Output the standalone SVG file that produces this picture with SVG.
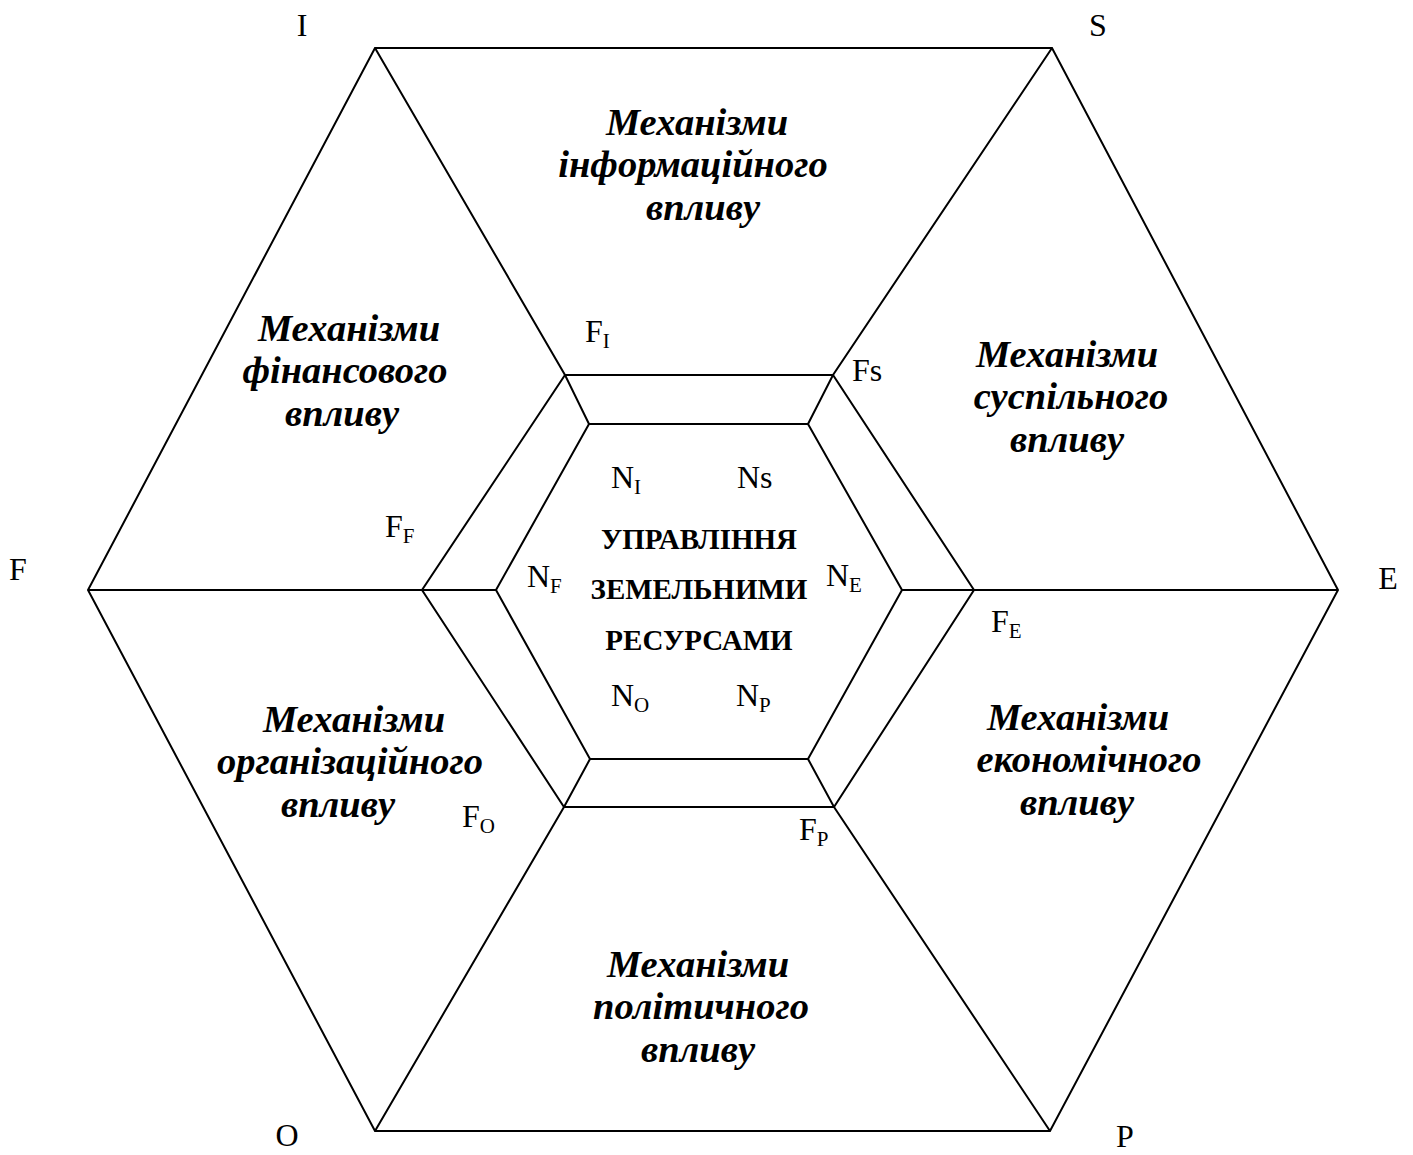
<svg xmlns="http://www.w3.org/2000/svg" width="1413" height="1155" viewBox="0 0 1413 1155">
<style>
.ln{fill:none;stroke:#000;stroke-width:2;stroke-linejoin:miter}
.mech{font-family:"Liberation Serif","Times New Roman",serif;font-weight:bold;font-style:italic;font-size:38.5px;text-anchor:middle;fill:#000}
.lbl{font-family:"Liberation Serif","Times New Roman",serif;font-size:32px;fill:#000}
.sub{font-size:21px}
.ctr{font-family:"Liberation Serif","Times New Roman",serif;font-weight:bold;font-size:29px;text-anchor:middle;fill:#000}
</style>
<rect width="1413" height="1155" fill="#fff"/>
<g id="connectors">
<polygon class="ln" points="375,48 1052,48 1338,590 1050,1131 375,1131 88,590"/>
<polygon class="ln" points="565,375 833,375 974,590 834,807 564,807 422,590"/>
<polygon class="ln" points="589,424 808,424 902,590 808,759 590,759 496,590"/>
<polyline class="ln" points="375,48 565,375 589,424"/>
<polyline class="ln" points="1052,48 833,375 808,424"/>
<polyline class="ln" points="88,590 422,590 496,590"/>
<polyline class="ln" points="1338,590 974,590 902,590"/>
<polyline class="ln" points="375,1131 564,807 590,759"/>
<polyline class="ln" points="1050,1131 834,807 808,759"/>
</g>
<g id="vertex-labels" class="lbl">
<text x="302" y="36" text-anchor="middle">I</text>
<text x="1098" y="36" text-anchor="middle">S</text>
<text x="18" y="580" text-anchor="middle">F</text>
<text x="1388" y="589" text-anchor="middle">E</text>
<text x="287" y="1146" text-anchor="middle">O</text>
<text x="1125" y="1147" text-anchor="middle">P</text>
</g>
<g id="node-info"><text class="mech"><tspan x="697" y="135">Механізми</tspan><tspan x="693" y="177">інформаційного</tspan><tspan x="703" y="220">впливу</tspan></text></g>
<g id="node-fin"><text class="mech"><tspan x="349" y="341">Механізми</tspan><tspan x="345" y="383">фінансового</tspan><tspan x="342" y="426">впливу</tspan></text></g>
<g id="node-soc"><text class="mech"><tspan x="1067" y="367">Механізми</tspan><tspan x="1071" y="409">суспільного</tspan><tspan x="1067" y="452">впливу</tspan></text></g>
<g id="node-org"><text class="mech"><tspan x="354" y="732">Механізми</tspan><tspan x="350" y="774">організаційного</tspan><tspan x="338" y="817">впливу</tspan></text></g>
<g id="node-econ"><text class="mech"><tspan x="1078" y="730">Механізми</tspan><tspan x="1089" y="772">економічного</tspan><tspan x="1077" y="815">впливу</tspan></text></g>
<g id="node-pol"><text class="mech"><tspan x="698" y="977">Механізми</tspan><tspan x="701" y="1019">політичного</tspan><tspan x="698" y="1062">впливу</tspan></text></g>
<g id="node-center"><text class="ctr"><tspan x="699" y="549">УПРАВЛІННЯ</tspan><tspan x="699" y="599">ЗЕМЕЛЬНИМИ</tspan><tspan x="699" y="650">РЕСУРСАМИ</tspan></text></g>
<g id="f-labels" class="lbl">
<text x="585" y="342">F<tspan class="sub" dy="6">I</tspan></text>
<text x="852" y="381">Fs</text>
<text x="385" y="537">F<tspan class="sub" dy="6">F</tspan></text>
<text x="991" y="632">F<tspan class="sub" dy="6">E</tspan></text>
<text x="462" y="827">F<tspan class="sub" dy="6">O</tspan></text>
<text x="799" y="840">F<tspan class="sub" dy="6">P</tspan></text>
</g>
<g id="n-labels" class="lbl">
<text x="611" y="488">N<tspan class="sub" dy="6">I</tspan></text>
<text x="737" y="488">Ns</text>
<text x="527" y="587">N<tspan class="sub" dy="6">F</tspan></text>
<text x="826" y="586">N<tspan class="sub" dy="6">E</tspan></text>
<text x="611" y="706">N<tspan class="sub" dy="6">O</tspan></text>
<text x="736" y="706">N<tspan class="sub" dy="6">P</tspan></text>
</g>
</svg>
